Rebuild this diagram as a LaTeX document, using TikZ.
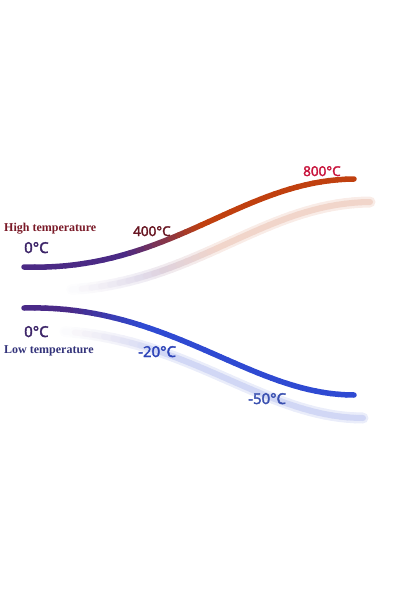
\documentclass[tikz,border=0pt]{standalone}
\usepackage{fontspec}
\setmainfont{Liberation Serif}
\newfontfamily\degfont{Open Sans}[FakeBold=2.5]
\definecolor{hotstart}{HTML}{4B2A85}
\definecolor{hotend}{HTML}{C0400F}
\definecolor{coldstart}{HTML}{4A2A88}
\definecolor{coldend}{HTML}{2F4AD2}
\definecolor{hightext}{HTML}{7A1A28}
\definecolor{lowtext}{HTML}{33337A}
\definecolor{zerotext}{HTML}{3C2468}
\tikzset{
  temp line/.style={line width=5.5pt, line cap=round},
  glow wide/.style={line width=11pt, line cap=round},
  glow thin/.style={line width=6pt, line cap=round},
  range label/.style={font=\bfseries\fontsize{12}{14}\selectfont, inner sep=0pt, anchor=base west},
  deg label/.style={font=\degfont\fontsize{15}{18}\selectfont, inner sep=0pt, anchor=base west}
}
\begin{document}
\begin{tikzpicture}[x=1pt,y=-1pt]
  \useasboundingbox (0,0) rectangle (395,592);
  \path (24,267) .. controls (170,272) and (240,180) .. (354,179)
    foreach \i in {0,...,40} {coordinate[pos=\i/40] (h\i)};
  \path (24,308) .. controls (170,304) and (250,395) .. (354,395)
    foreach \i in {0,...,40} {coordinate[pos=\i/40] (c\i)};
  \foreach \i [evaluate=\i as \j using int(\i+1), evaluate=\i as \pc using {int(min(100,max(0,10*(\i-10))))}, evaluate=\i as \pb using {int(min(100,max(0,12.5*(\i-4))))}, evaluate=\i as \fd using {int(min(10,\i-2))}] in {3,...,39} {
    \draw[glow wide, color=hotend!\pc!hotstart!\fd] ([shift={(16,23)}]h\i) -- ([shift={(16,23)}]h\j);
    \draw[glow wide, color=coldend!\pb!coldstart!\fd] ([shift={(9,23)}]c\i) -- ([shift={(9,23)}]c\j);
  }
  \foreach \i [evaluate=\i as \j using int(\i+1), evaluate=\i as \pc using {int(min(100,max(0,10*(\i-10))))}, evaluate=\i as \pb using {int(min(100,max(0,12.5*(\i-4))))}, evaluate=\i as \fd using {int(min(22,2*(\i-2)))}] in {3,...,39} {
    \draw[glow thin, color=hotend!\pc!hotstart!\fd] ([shift={(16,23)}]h\i) -- ([shift={(16,23)}]h\j);
    \draw[glow thin, color=coldend!\pb!coldstart!\fd] ([shift={(9,23)}]c\i) -- ([shift={(9,23)}]c\j);
  }
  \foreach \i [evaluate=\i as \j using int(\i+1), evaluate=\i as \pc using {int(min(100,max(0,10*(\i-10))))}, evaluate=\i as \pb using {int(min(100,max(0,12.5*(\i-4))))}] in {0,...,39} {
    \draw[temp line, color=hotend!\pc!hotstart] (h\i) -- (h\j);
    \draw[temp line, color=coldend!\pb!coldstart] (c\i) -- (c\j);
  }
  \node[range label, text=hightext] (high) at (4,231) {High temperature};
  \node[deg label, text=zerotext] (hzero) at (24,253) {0°C};
  \node[deg label, text=hightext!85!black, font=\degfont\fontsize{13.5}{16}\selectfont] (mid) at (133,236) {400°C};
  \node[deg label, text={rgb,255:red,200;green,20;blue,60}, font=\degfont\fontsize{13.5}{16}\selectfont] (top) at (303,176) {800°C};
  \node[deg label, text=zerotext] (czero) at (24,337) {0°C};
  \node[range label, text=lowtext] (low) at (4,353) {Low temperature};
  \node[deg label, text={rgb,255:red,46;green,68;blue,184}] (cold) at (138,357) {-20°C};
  \node[deg label, text={rgb,255:red,58;green,80;blue,176}] (coldest) at (248,404) {-50°C};
\end{tikzpicture}
\end{document}
